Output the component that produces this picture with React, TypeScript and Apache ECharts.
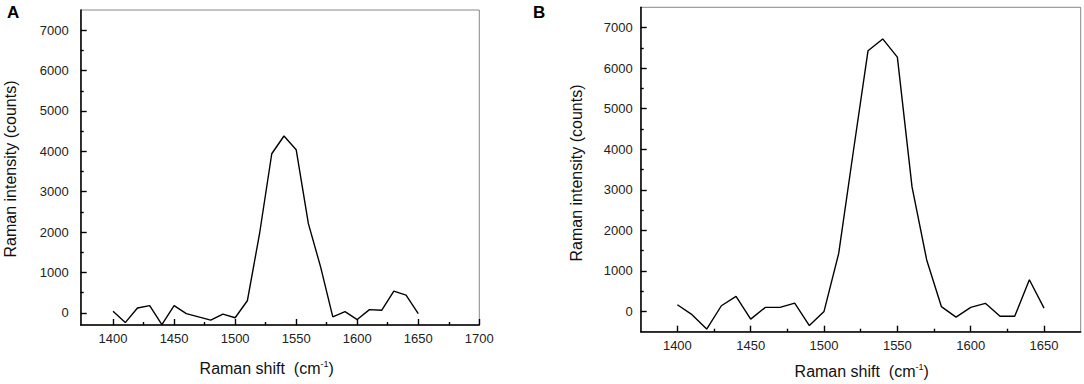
import React, { useEffect, useRef } from "react";
import * as echarts from "echarts";

const shifts = [1400, 1410, 1420, 1430, 1440, 1450, 1460, 1470, 1480, 1490, 1500, 1510, 1520, 1530, 1540, 1550, 1560, 1570, 1580, 1590, 1600, 1610, 1620, 1630, 1640, 1650];
const intensityA = [40, -240, 120, 180, -290, 180, -20, -100, -180, -30, -120, 300, 1960, 3940, 4380, 4040, 2210, 1140, -100, 30, -165, 80, 65, 540, 440, -20];
const intensityB = [165, -80, -435, 140, 370, -190, 100, 100, 205, -350, 0, 1430, 3950, 6430, 6720, 6270, 3070, 1270, 120, -140, 100, 200, -120, -120, 780, 80];

const xTicksA = [1400, 1450, 1500, 1550, 1600, 1650, 1700];
const xMinorA = [1425, 1475, 1525, 1575, 1625, 1675];
const xTicksB = [1400, 1450, 1500, 1550, 1600, 1650];
const xMinorB = [1425, 1475, 1525, 1575, 1625];
const yTicks = [0, 1000, 2000, 3000, 4000, 5000, 6000, 7000];
const yMinor = [500, 1500, 2500, 3500, 4500, 5500, 6500];

const FONT = "'Liberation Sans', Arial, sans-serif";

function majorAxis(gridIndex: number, min: number, max: number, ticks: number[], margin: number, position: string) {
  return {
    type: "value",
    gridIndex,
    position,
    min,
    max,
    axisLine: { show: true, onZero: false, lineStyle: { color: "#000", width: 1.5 } },
    axisTick: { show: true, inside: true, length: 6, customValues: ticks, lineStyle: { color: "#000", width: 1.4 } },
    axisLabel: {
      show: true,
      customValues: ticks,
      margin,
      fontSize: 13,
      color: "#222",
      fontFamily: FONT,
      formatter: (v: number) => String(v),
    },
    splitLine: { show: false },
  };
}

function minorAxis(gridIndex: number, min: number, max: number, ticks: number[], position: string) {
  return {
    type: "value",
    gridIndex,
    position,
    min,
    max,
    axisLine: { show: false, onZero: false },
    axisTick: { show: true, inside: true, length: 3, customValues: ticks, lineStyle: { color: "#000", width: 1.4 } },
    axisLabel: { show: false },
    splitLine: { show: false },
  };
}

export default function App() {
  const ref = useRef<HTMLDivElement>(null);
  useEffect(() => {
    if (!ref.current) return;
    const chart = echarts.init(ref.current, undefined, { renderer: "svg" });
    const gridStyle = { show: true, borderColor: "#888", borderWidth: 1, backgroundColor: "transparent" };
    const xTitle = (x: number, y: number) => ({
      type: "text", x, y,
      style: {
        text: "{a|Raman shift  (cm}{s|-1}{a|)}",
        align: "center", verticalAlign: "middle",
        rich: {
          a: { fontSize: 16, fontFamily: FONT, fill: "#111", lineHeight: 18 },
          s: { fontSize: 9, fontFamily: FONT, fill: "#111", verticalAlign: "top", lineHeight: 10 },
        },
      },
    });
    const yTitle = (x: number, y: number) => ({
      type: "text", x, y, rotation: Math.PI / 2,
      style: { text: "Raman intensity (counts)", font: `16px ${FONT}`, fill: "#111", align: "center", verticalAlign: "middle" },
    });
    chart.setOption({
      animation: false,
      backgroundColor: "#fff",
      grid: [
        { left: 80.7, top: 10, width: 398.6, height: 315, ...gridStyle },
        { left: 640.7, top: 7.3, width: 440, height: 324.4, ...gridStyle },
      ],
      xAxis: [
        majorAxis(0, 1373.5, 1700, xTicksA, 7, "bottom"),
        minorAxis(0, 1373.5, 1700, xMinorA, "bottom"),
        majorAxis(1, 1375, 1675, xTicksB, 7, "bottom"),
        minorAxis(1, 1375, 1675, xMinorB, "bottom"),
      ],
      yAxis: [
        majorAxis(0, -300, 7500, yTicks, 12, "left"),
        minorAxis(0, -300, 7500, yMinor, "left"),
        majorAxis(1, -500, 7500, yTicks, 8, "left"),
        minorAxis(1, -500, 7500, yMinor, "left"),
      ],
      series: [
        {
          type: "line",
          xAxisIndex: 0,
          yAxisIndex: 0,
          data: shifts.map((x, i) => [x, intensityA[i]]),
          showSymbol: false,
          symbol: "none",
          lineStyle: { color: "#000", width: 1.4 },
        },
        {
          type: "line",
          xAxisIndex: 2,
          yAxisIndex: 2,
          data: shifts.map((x, i) => [x, intensityB[i]]),
          showSymbol: false,
          symbol: "none",
          lineStyle: { color: "#000", width: 1.4 },
        },
      ],
      graphic: [
        { type: "text", left: 7, top: 4, style: { text: "A", font: `bold 17px ${FONT}`, fill: "#000" } },
        { type: "text", left: 533, top: 4, style: { text: "B", font: `bold 17px ${FONT}`, fill: "#000" } },
        yTitle(10.5, 169),
        yTitle(576, 173),
        xTitle(266.7, 368),
        xTitle(861.7, 371),
      ],
    });
    return () => chart.dispose();
  }, []);
  return (
    <div
      ref={ref}
      style={{ position: "absolute", left: 0, top: 0, width: 1084, height: 384, background: "#fff" }}
    />
  );
}
